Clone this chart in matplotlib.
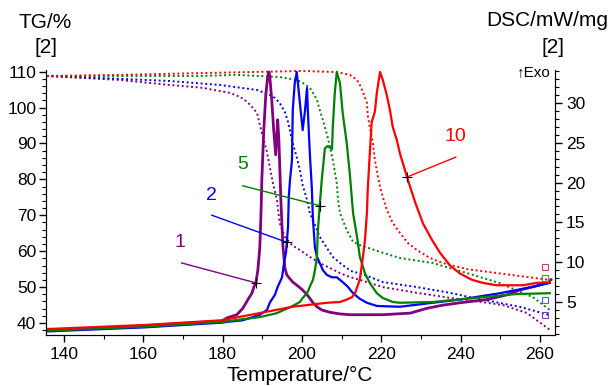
import matplotlib
matplotlib.use("Agg")
import matplotlib.pyplot as plt
from matplotlib.ticker import MultipleLocator

plt.rcParams["font.family"] = ["Liberation Sans", "DejaVu Sans"]

rates = ["1", "2", "5", "10"]
colors = ["#800080", "#0000ff", "#008000", "#ff0000"]

# DSC curves (mW/mg, right axis)
t_dsc_1 = [135.7, 160.0, 179.8, 181.1, 183.6, 185.1, 186.4, 187.4, 187.9, 188.4, 188.9, 189.2, 189.4,
           189.7, 189.9, 190.4, 190.9, 191.4, 191.7, 191.9, 192.4, 192.9, 193.4, 193.7, 193.9, 194.2,
           194.7, 195.2, 195.7, 196.2, 197.0, 197.7, 199.0, 200.2, 201.5, 202.8, 203.8, 205.0, 207.1,
           209.6, 212.1, 220.4, 227.3, 231.5, 235.5, 239.8, 246.6, 251.7, 254.9, 258.2, 261.8, 262.8]
dsc_1 = [1.4, 2.0, 2.6, 3.0, 3.4, 4.2, 5.3, 6.1, 6.9, 7.4, 9.0, 10.7, 11.9,
         16.2, 20.3, 26.6, 31.0, 33.4, 33.9, 33.4, 30.4, 26.6, 23.5, 26.0, 27.9, 25.4,
         17.8, 12.2, 9.3, 8.4, 7.9, 7.5, 7.0, 6.5, 5.8, 4.9, 4.4, 4.0, 3.7,
         3.5, 3.4, 3.4, 3.6, 4.2, 4.6, 4.9, 5.3, 5.9, 6.5, 6.9, 7.4, 7.8]

t_dsc_2 = [135.7, 160.0, 179.8, 181.1, 185.1, 187.6, 189.4, 191.2, 191.9, 193.2, 193.9, 195.0, 195.5,
           196.0, 196.2, 196.5, 196.7, 197.0, 197.5, 197.7, 198.2, 198.7, 199.0, 199.5, 200.2, 200.8,
           201.3, 201.5, 202.0, 202.5, 202.8, 203.3, 203.8, 204.5, 205.3, 206.3, 207.6, 208.8, 210.3,
           211.6, 212.9, 214.6, 216.4, 218.9, 224.7, 233.0, 239.8, 249.9, 258.2, 262.5]
dsc_2 = [1.3, 1.8, 2.4, 2.5, 2.7, 3.1, 3.4, 4.0, 4.9, 5.9, 6.9, 8.1, 9.9,
         11.2, 12.5, 14.4, 18.2, 20.3, 22.8, 29.1, 32.5, 33.9, 32.5, 30.0, 26.6, 29.1,
         31.9, 29.1, 23.7, 19.4, 15.3, 11.8, 10.7, 9.9, 9.0, 8.4, 8.1, 8.1, 7.5,
         6.9, 6.1, 5.4, 4.9, 4.5, 4.4, 4.9, 5.3, 6.1, 6.9, 7.4]

t_dsc_5 = [135.7, 160.0, 179.8, 189.4, 193.7, 197.7, 199.5, 200.2, 201.3, 202.0, 202.8, 203.3, 203.8,
           204.0, 204.5, 205.0, 205.8, 206.5, 207.6, 207.8, 208.3, 208.8, 209.6, 210.3, 211.3, 212.1,
           212.9, 213.9, 214.6, 215.9, 217.1, 218.9, 220.4, 222.9, 224.7, 233.0, 245.6, 254.2, 262.5]
dsc_5 = [1.4, 1.9, 2.5, 3.1, 3.6, 4.5, 5.0, 5.5, 6.1, 6.9, 7.8, 9.0, 10.7,
         13.7, 17.1, 20.3, 24.3, 24.6, 24.2, 27.0, 31.3, 33.9, 32.5, 28.7, 25.0, 21.0,
         16.2, 13.2, 10.7, 8.6, 7.4, 6.1, 5.5, 5.0, 4.9, 5.0, 5.6, 6.0, 6.1]

t_dsc_10 = [135.7, 160.0, 179.8, 197.7, 206.3, 209.6, 211.3, 212.6, 213.4, 214.1, 214.6, 215.4, 215.9,
            216.4, 216.6, 217.1, 217.6, 218.4, 218.9, 219.7, 220.4, 221.4, 222.2, 222.9, 223.9, 224.7,
            226.5, 228.5, 230.5, 232.8, 234.8, 237.3, 239.8, 242.8, 245.6, 249.1, 252.4, 255.7, 259.2,
            262.5]
dsc_10 = [1.6, 2.1, 2.7, 4.4, 4.9, 5.0, 5.3, 5.6, 6.1, 7.1, 7.8, 10.7, 12.8,
          16.2, 19.1, 23.5, 27.6, 28.9, 31.3, 33.9, 32.9, 31.0, 29.1, 27.0, 25.4, 23.7,
          20.7, 17.6, 14.9, 12.8, 11.2, 9.6, 8.6, 7.8, 7.4, 7.1, 7.1, 7.1, 7.4,
          7.5]

# TG curves (%, left axis)
t_tg_1 = [135.7, 154.1, 166.7, 175.0, 179.3, 181.8, 184.4, 186.1, 187.4, 188.7, 189.4, 190.2, 191.2,
          191.9, 192.7, 193.7, 194.4, 195.7, 197.5, 199.5, 202.0, 204.5, 207.1, 209.6, 212.1, 214.6,
          220.4, 229.0, 237.3, 241.6, 250.7, 256.7, 262.5]
tg_1 = [108.8, 107.7, 106.3, 105.5, 104.6, 104.1, 103.0, 101.7, 100.2, 98.5, 95.2, 91.8, 87.6,
        83.5, 79.0, 74.3, 67.9, 64.0, 61.7, 60.3, 58.4, 56.7, 55.3, 53.9, 52.8, 52.0,
        50.0, 48.4, 47.0, 46.4, 45.0, 42.8, 38.1]

t_tg_2 = [135.7, 154.1, 166.7, 179.3, 188.7, 191.9, 193.2, 194.4, 195.7, 196.5, 197.7, 198.7, 199.5,
          200.2, 201.3, 202.0, 202.8, 204.5, 206.3, 207.8, 209.6, 211.3, 212.9, 214.6, 220.4, 229.0,
          237.3, 242.3, 254.9, 262.5]
tg_2 = [108.8, 108.0, 107.4, 106.3, 104.9, 103.5, 102.7, 101.3, 98.8, 96.0, 90.1, 86.2, 82.6,
        78.4, 74.3, 70.6, 68.7, 64.0, 60.9, 58.4, 56.7, 55.3, 54.2, 53.9, 51.4, 50.0,
        48.4, 47.2, 44.5, 42.2]

t_tg_5 = [135.7, 154.1, 174.3, 183.6, 194.4, 198.7, 200.2, 202.0, 202.8, 203.8, 204.5, 205.3, 206.5,
          207.8, 208.8, 209.1, 209.6, 211.3, 212.9, 214.6, 219.7, 224.7, 233.0, 241.6, 249.9, 258.2,
          262.5]
tg_5 = [108.8, 108.8, 108.8, 109.1, 108.5, 107.7, 106.9, 105.5, 104.1, 102.2, 99.3, 96.5, 91.8,
        85.4, 79.0, 74.3, 70.6, 65.9, 62.6, 61.7, 59.8, 58.1, 56.7, 53.9, 51.1, 47.2,
        43.6]

t_tg_10 = [135.7, 154.1, 174.3, 200.2, 208.8, 212.1, 213.9, 214.6, 215.4, 216.4, 216.6, 217.1, 217.9,
           218.4, 219.2, 219.7, 220.4, 221.4, 222.9, 224.7, 226.7, 229.0, 232.3, 235.5, 241.6, 249.9,
           258.2, 262.5]
tg_10 = [108.8, 109.1, 109.6, 110.2, 109.9, 109.1, 107.7, 106.3, 104.3, 101.3, 97.9, 94.6, 90.1,
         85.4, 80.7, 77.9, 75.1, 71.5, 67.9, 65.1, 62.3, 60.3, 58.1, 56.7, 55.0, 53.8,
         52.6, 52.0]

# labelled points on the DSC curves: (text pos, line start, marker)
label_text = [(169.2, 11.4), (177.1, 17.3), (185.1, 21.2), (238.8, 24.7)]
label_start = [(169.7, 9.9), (177.3, 15.9), (185.1, 19.6), (238.8, 23.2)]
label_point = [(188.4, 7.4), (196.2, 12.5), (204.5, 17.1), (226.5, 20.7)]

# segment end markers at the right edge
end_marker_dsc = [9.4, 8.0, 5.3, 3.4]
end_marker_colors = ["#c04080", "#40a040", "#4060ff", "#8040c0"]

dsc_t = [t_dsc_1, t_dsc_2, t_dsc_5, t_dsc_10]
dsc_v = [dsc_1, dsc_2, dsc_5, dsc_10]
tg_t = [t_tg_1, t_tg_2, t_tg_5, t_tg_10]
tg_v = [tg_1, tg_2, tg_5, tg_10]

fig = plt.figure(figsize=(6.11, 3.86), dpi=100)
ax = fig.add_axes([0.0753, 0.1321, 0.833, 0.6866])
ax2 = ax.twinx()

for t, v, c in zip(tg_t, tg_v, colors):
    ax.plot(t, v, color=c, lw=1.4, linestyle=(0, (1, 1.4)))
for i, (t, v, c) in enumerate(zip(dsc_t, dsc_v, colors)):
    ax2.plot(t, v, color=c, lw=2.0 if i == 0 else 1.6, solid_joinstyle="round")

for i, c in enumerate(colors):
    (tx, ty), (sx, sy), (px, py) = label_text[i], label_start[i], label_point[i]
    ax2.plot([sx, px], [sy, py], color=c, lw=1.0)
    ax2.plot([px], [py], marker="+", color="black", ms=7, mew=0.8)
    ax2.text(tx, ty, rates[i], color=c, fontsize=14, ha="center", va="bottom")

for y, c in zip(end_marker_dsc, end_marker_colors):
    ax2.plot([261.3], [y], marker="s", ms=4, mfc="none", mec=c, mew=0.8)

ax.set_xlim(135.5, 263.8)
ax.set_ylim(36.65, 110.47)
ax2.set_ylim(0.85, 34.15)

ax.xaxis.set_major_locator(MultipleLocator(20))
ax.xaxis.set_minor_locator(MultipleLocator(10))
ax.yaxis.set_major_locator(MultipleLocator(10))
ax.yaxis.set_minor_locator(MultipleLocator(2))
ax2.yaxis.set_major_locator(MultipleLocator(5))
ax2.yaxis.set_minor_locator(MultipleLocator(1))
ax2.set_yticks([5, 10, 15, 20, 25, 30])

for a in (ax, ax2):
    a.spines["top"].set_visible(False)
    a.tick_params(which="major", direction="out", length=5, width=1, labelsize=12.5)
    a.tick_params(which="minor", direction="out", length=3, width=0.8)
ax.tick_params(axis="y", pad=2)
ax2.tick_params(axis="y", pad=3)

fig.text(0.074, 0.943, "TG/%", fontsize=15, ha="center", va="center")
fig.text(0.075, 0.878, "[2]", fontsize=15, ha="center", va="center")
fig.text(0.995, 0.948, "DSC/mW/mg", fontsize=15, ha="right", va="center")
fig.text(0.905, 0.878, "[2]", fontsize=15, ha="center", va="center")
fig.text(0.901, 0.813, "\u2191Exo", fontsize=11, ha="right", va="center")
fig.text(0.491, 0.028, "Temperature/\u00b0C", fontsize=15, ha="center", va="center")

fig.savefig("out.png", dpi=100)
